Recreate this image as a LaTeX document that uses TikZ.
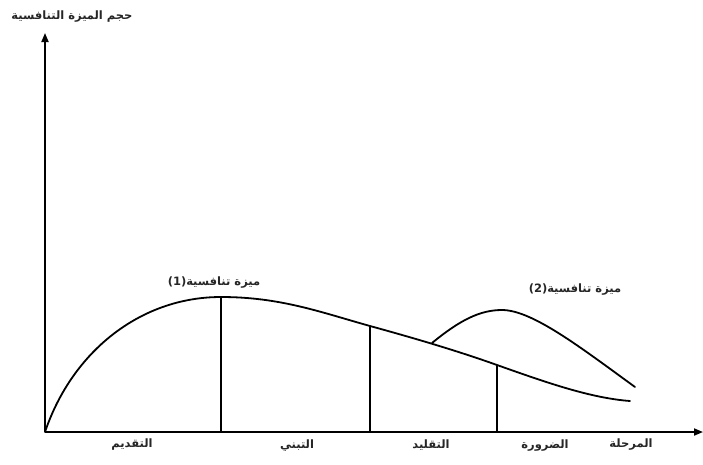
\documentclass[tikz,border=0pt]{standalone}
\usepackage{fontspec}
\newfontfamily\arabicfont[Script=Arabic]{DejaVu Sans}
\TeXXeTstate=1
\usetikzlibrary{arrows.meta}
\begin{document}
\begin{tikzpicture}[x=1pt,y=-1pt,
  curve/.style={line width=1.8pt, line cap=round, line join=round},
  axis/.style={line width=1.8pt, -{Triangle[length=9pt,width=7pt]}},
  divider/.style={line width=1.5pt},
  lbl/.style={font=\arabicfont\bfseries\fontsize{11.5}{13}\selectfont, inner sep=0pt, text=black!85}]
\useasboundingbox (0,0) rectangle (703,464);
% axes
\coordinate (O) at (45,432);
\coordinate (ytop) at (45,33);
\coordinate (xend) at (703,432);
\draw[axis] (O) -- (ytop);
\draw[axis] (O) -- (xend);
% curve 1
\coordinate (p1) at (221,297);
\coordinate (p2) at (370,326);
\coordinate (p3) at (497,365);
\coordinate (pe) at (630,401);
\draw[curve] (O) .. controls (72,352) and (140,297) .. (p1)
  .. controls (280,297) and (320,312) .. (p2)
  .. controls (410,337) and (455,350) .. (p3)
  .. controls (545,382) and (590,398) .. (pe);
% curve 2
\coordinate (q0) at (432,343);
\coordinate (qt) at (502,310);
\coordinate (qe) at (635,387);
\draw[curve] (q0) .. controls (460,320) and (480,310) .. (qt)
  .. controls (532,310) and (580,347) .. (qe);
% dividers
\coordinate (b1) at (221,432);
\coordinate (b2) at (370,432);
\coordinate (b3) at (497,432);
\draw[divider] (p1) -- (b1);
\draw[divider] (p2) -- (b2);
\draw[divider] (p3) -- (b3);
% labels
\node[lbl] (ylab) at (72,17) {\beginR حجم الميزة التنافسية\endR};
\node[lbl] (m1) at (214,283) {(1)\beginR ميزة تنافسية\endR};
\node[lbl] (m2) at (575,290) {(2)\beginR ميزة تنافسية\endR};
\node[lbl] (s1) at (132,445) {\beginR التقديم\endR};
\node[lbl] (s2) at (297,446) {\beginR التبني\endR};
\node[lbl] (s3) at (431,445) {\beginR التقليد\endR};
\node[lbl] (s4) at (545,446) {\beginR الضرورة\endR};
\node[lbl] (s5) at (631,445) {\beginR المرحلة\endR};
\end{tikzpicture}
\end{document}
